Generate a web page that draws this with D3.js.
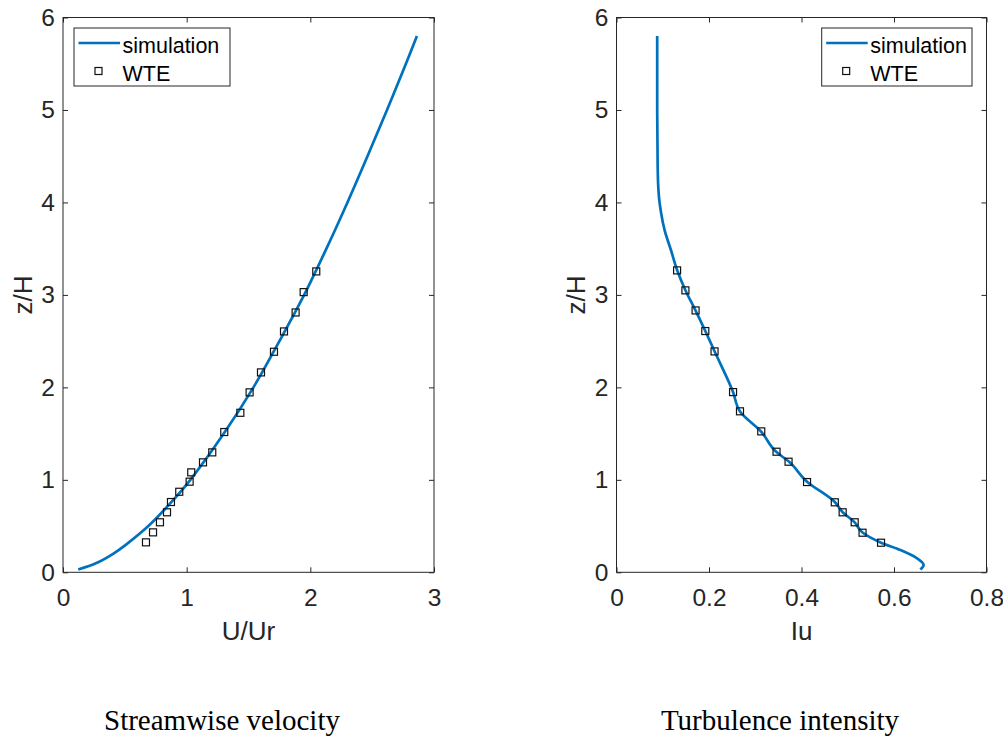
<!DOCTYPE html>
<html>
<head>
<meta charset="utf-8">
<script src="https://cdn.jsdelivr.net/npm/d3@7"></script>
<style>
  body { margin: 0; background: #fff; }
  svg { display: block; }
</style>
</head>
<body>
<svg id="chart" width="1003" height="738"></svg>
<script>
// streamwise velocity panel
var velSimZ = [0.03, 0.1, 0.2, 0.3, 0.5, 0.75, 1, 1.5, 2, 2.5, 3, 3.5, 4, 4.5, 5, 5.5, 5.8];
var velSimU = [0.123, 0.27, 0.405, 0.51, 0.69, 0.87, 1.03, 1.30, 1.54, 1.75, 1.95, 2.13, 2.30, 2.462, 2.62, 2.773, 2.862];
var velWteZ = [3.254, 3.03, 2.81, 2.605, 2.385, 2.162, 1.946, 1.725, 1.517, 1.297, 1.189, 1.081, 0.98, 0.871, 0.76, 0.649, 0.541, 0.432, 0.324];
var velWteU = [2.048, 1.946, 1.881, 1.787, 1.706, 1.601, 1.509, 1.434, 1.304, 1.207, 1.132, 1.037, 1.024, 0.940, 0.873, 0.841, 0.784, 0.728, 0.671];

// turbulence intensity panel
var tiSimZ = [0.03, 0.08, 0.15, 0.24, 0.32, 0.43, 0.54, 0.65, 0.76, 0.98, 1.20, 1.30, 1.52, 1.74, 1.95, 2.39, 2.61, 2.83, 3.05, 3.27, 3.48, 3.7, 3.9, 4.05, 4.2, 4.4, 5.0, 5.8];
var tiSimI = [0.657, 0.664, 0.650, 0.614, 0.572, 0.532, 0.515, 0.489, 0.472, 0.412, 0.372, 0.346, 0.313, 0.267, 0.252, 0.212, 0.192, 0.171, 0.149, 0.131, 0.118, 0.104, 0.096, 0.092, 0.090, 0.089, 0.088, 0.088];
var tiWteZ = [3.265, 3.049, 2.832, 2.609, 2.389, 1.949, 1.741, 1.524, 1.304, 1.196, 0.976, 0.757, 0.649, 0.541, 0.428, 0.320];
var tiWteI = [0.131, 0.149, 0.171, 0.192, 0.212, 0.252, 0.267, 0.313, 0.346, 0.372, 0.412, 0.472, 0.489, 0.515, 0.532, 0.572];

var velTicks = [0, 1, 2, 3];
var tiTicks = [0, 0.2, 0.4, 0.6, 0.8];
var zTicks = [0, 1, 2, 3, 4, 5, 6];
var seriesNames = ["simulation", "WTE"];

var blue = "#0072BD", axisCol = "#262626";
var sans = "'Liberation Sans', Arial, sans-serif";
var svg = d3.select("#chart");

function styleAxis(a) {
  a.select(".domain").remove();
  a.selectAll(".tick line").attr("stroke", axisCol);
  a.selectAll(".tick text")
    .attr("font-family", null).attr("font-size", null)
    .style("font-family", sans).style("font-size", "24.5px").style("fill", axisCol);
}

function panel(opt) {
  var x = d3.scaleLinear().domain(opt.xDomain).range([opt.left, opt.right]);
  var y = d3.scaleLinear().domain([0, 6]).range([572.3, 17.5]);
  var g = svg.append("g");

  // ticks pointing inward on all four sides
  g.append("g").attr("transform", "translate(0,572.3)")
    .call(d3.axisBottom(x).tickValues(opt.xTicks).tickFormat(d3.format("")).tickSizeInner(-5).tickSizeOuter(0).tickPadding(16))
    .call(styleAxis);
  g.append("g").attr("transform", "translate(0,17.5)")
    .call(d3.axisTop(x).tickValues(opt.xTicks).tickFormat("").tickSizeInner(-5).tickSizeOuter(0))
    .call(styleAxis);
  g.append("g").attr("transform", "translate(" + opt.left + ",0)")
    .call(d3.axisLeft(y).tickValues(zTicks).tickFormat(d3.format("")).tickSizeInner(-5).tickSizeOuter(0).tickPadding(8))
    .call(styleAxis);
  g.append("g").attr("transform", "translate(" + opt.right + ",0)")
    .call(d3.axisRight(y).tickValues(zTicks).tickFormat("").tickSizeInner(-5).tickSizeOuter(0))
    .call(styleAxis);

  g.append("rect")
    .attr("x", opt.left).attr("y", 17.5)
    .attr("width", opt.right - opt.left).attr("height", 572.3 - 17.5)
    .attr("fill", "none").attr("stroke", axisCol).attr("stroke-width", 1);

  var line = d3.line()
    .x(function(d) { return x(d[0]); })
    .y(function(d) { return y(d[1]); })
    .curve(opt.curve);

  g.append("path")
    .datum(d3.zip(opt.simX, opt.simZ))
    .attr("d", line)
    .attr("fill", "none").attr("stroke", blue).attr("stroke-width", 2.7);

  g.selectAll(".wte")
    .data(d3.zip(opt.wteX, opt.wteZ))
    .enter().append("rect")
    .attr("class", "wte")
    .attr("x", function(d) { return x(d[0]) - 3.5; })
    .attr("y", function(d) { return y(d[1]) - 3.5; })
    .attr("width", 7).attr("height", 7)
    .attr("fill", "none").attr("stroke", "#111").attr("stroke-width", 1.2);

  // axis labels
  g.append("text")
    .attr("x", (opt.left + opt.right) / 2).attr("y", 640)
    .attr("text-anchor", "middle")
    .style("font-family", sans).style("font-size", "26px").style("fill", axisCol)
    .text(opt.xLabel);
  g.append("text")
    .attr("transform", "translate(" + opt.yLabelX + ",295) rotate(-90)")
    .attr("text-anchor", "middle")
    .style("font-family", sans).style("font-size", "26px").style("fill", axisCol)
    .text("z/H");

  // legend
  var lg = g.append("g").attr("transform", "translate(" + opt.legendX + ",28)");
  lg.append("rect").attr("width", opt.legendW).attr("height", 58)
    .attr("fill", "#fff").attr("stroke", axisCol).attr("stroke-width", 1);
  lg.append("line").attr("x1", 4.5).attr("x2", 46).attr("y1", 15).attr("y2", 15)
    .attr("stroke", blue).attr("stroke-width", 2.7);
  lg.append("rect").attr("x", 21).attr("y", 39.5).attr("width", 7).attr("height", 7)
    .attr("fill", "none").attr("stroke", "#111").attr("stroke-width", 1.2);
  lg.selectAll(".lt").data(seriesNames).enter().append("text")
    .attr("x", 48.5)
    .attr("y", function(d, i) { return 25 + i * 28; })
    .style("font-family", sans).style("font-size", "21.5px").style("fill", "#000")
    .text(function(d) { return d; });

  // caption under the panel
  svg.append("text")
    .attr("x", opt.captionX).attr("y", 730)
    .attr("text-anchor", "middle")
    .style("font-family", "'Liberation Serif', 'Times New Roman', serif").style("font-size", "29px").style("fill", "#000")
    .text(opt.caption);
}

panel({
  left: 63, right: 434, xDomain: [0, 3], xTicks: velTicks,
  simX: velSimU, simZ: velSimZ, wteX: velWteU, wteZ: velWteZ,
  curve: d3.curveCatmullRom.alpha(0.5),
  xLabel: "U/Ur", yLabelX: 32, legendX: 74, legendW: 156,
  caption: "Streamwise velocity", captionX: 222
});

panel({
  left: 616.5, right: 986.5, xDomain: [0, 0.8], xTicks: tiTicks,
  simX: tiSimI, simZ: tiSimZ, wteX: tiWteI, wteZ: tiWteZ,
  curve: d3.curveMonotoneY,
  xLabel: "Iu", yLabelX: 585, legendX: 821.7, legendW: 150.3,
  caption: "Turbulence intensity", captionX: 780
});
</script>
</body>
</html>
